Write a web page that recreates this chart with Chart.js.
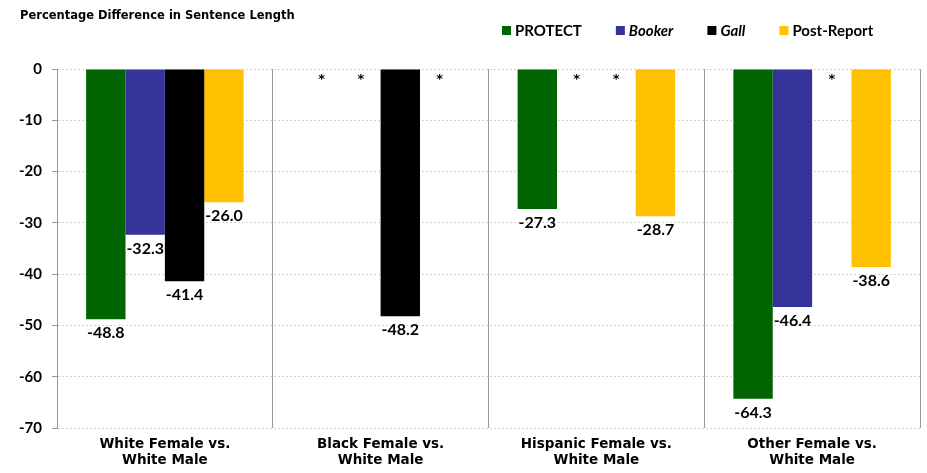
<!DOCTYPE html>
<html><head><meta charset="utf-8">
<script src="https://cdn.jsdelivr.net/npm/chart.js@4.4.1/dist/chart.umd.min.js"></script>
<style>html,body{margin:0;padding:0;background:#fff}#wrap{width:927px;height:473px}</style>
</head><body><div id="wrap"><canvas id="c" width="927" height="473"></canvas></div>
<script>
const titleText = 'Percentage Difference in Sentence Length';
const categories = [['White Female vs.','White Male'],['Black Female vs.','White Male'],['Hispanic Female vs.','White Male'],['Other Female vs.','White Male']];
const seriesNames = ['PROTECT','Booker','Gall','Post-Report'];
const seriesItalic = [false,true,true,false];
const seriesColors = ['#006400','#333399','#000000','#FFC000'];
const protectVals = [-48.8, null, -27.3, -64.3];
const bookerVals = [-32.3, null, null, -46.4];
const gallVals = [-41.4, -48.2, null, null];
const postVals = [-26.0, null, -28.7, -38.6];
const yTicks = [0,-10,-20,-30,-40,-50,-60,-70];
const FONT = 'Lato';
const WIDE = 'DejaVu Sans';

const seriesVals = [protectVals, bookerVals, gallVals, postVals];
const datasets = seriesNames.map((n,i)=>({label:n,data:seriesVals[i],backgroundColor:seriesColors[i],borderWidth:0}));

const overlay = {
  id:'overlay',
  afterDatasetsDraw(chart){
    const ctx = chart.ctx; const y = chart.scales.y;
    ctx.save();
    chart.data.datasets.forEach((ds,di)=>{
      const meta = chart.getDatasetMeta(di);
      meta.data.forEach((bar,i)=>{
        const v = ds.data[i];
        ctx.fillStyle='#000'; ctx.textAlign='center';
        if(v===null||v===undefined){
          ctx.font = 'bold 13px '+WIDE; ctx.textBaseline='middle';
          ctx.fillText('*', bar.x, y.getPixelForValue(-2.0));
        } else {
          ctx.font = 'bold 16px '+FONT; ctx.textBaseline='top';
          ctx.fillText(v.toFixed(1), bar.x, y.getPixelForValue(v)+6);
        }
      });
    });
    // title
    ctx.textAlign='left'; ctx.textBaseline='middle'; ctx.fillStyle='#000';
    ctx.font='bold 11.5px '+WIDE; ctx.fillText(titleText, 20, 16);
    // legend
    let x = 502; const ly = 30;
    seriesNames.forEach((n,i)=>{
      ctx.fillStyle = seriesColors[i]; ctx.fillRect(x, ly-4, 9, 9);
      ctx.fillStyle='#000';
      ctx.font = (seriesItalic[i]?'italic ':'')+'bold 15px '+FONT;
      ctx.fillText(n, x+13, ly+1);
      x += 13 + ctx.measureText(n).width + 34;
    });
    ctx.restore();
  }
};

new Chart(document.getElementById('c'),{
  type:'bar',
  data:{labels:categories,datasets},
  options:{
    responsive:false, animation:false,
    layout:{padding:{top:69,right:7,left:0,bottom:0}},
    plugins:{legend:{display:false},title:{display:false},tooltip:{enabled:false}},
    datasets:{bar:{categoryPercentage:0.73,barPercentage:1.0}},
    scales:{
      x:{
        grid:{offset:true,color:'#999',lineWidth:1,drawTicks:false},
        border:{display:false},
        ticks:{font:{family:WIDE,size:13.5,weight:'bold'},color:'#000',padding:8,maxRotation:0,autoSkip:false,lineHeight:1.4},
        afterFit(s){s.height=45;}
      },
      y:{
        min:-70,max:0,
        afterBuildTicks(s){s.ticks=yTicks.map(v=>({value:v}));},
        grid:{color:'#d4d4d4',tickColor:'#999',tickLength:5,lineWidth:1},
        border:{display:true,color:'#999',dash:[2,2]},
        ticks:{font:{family:FONT,size:15,weight:'bold'},color:'#000',padding:10},
        afterFit(s){s.width=57;}
      }
    }
  },
  plugins:[overlay]
});
</script></body></html>
